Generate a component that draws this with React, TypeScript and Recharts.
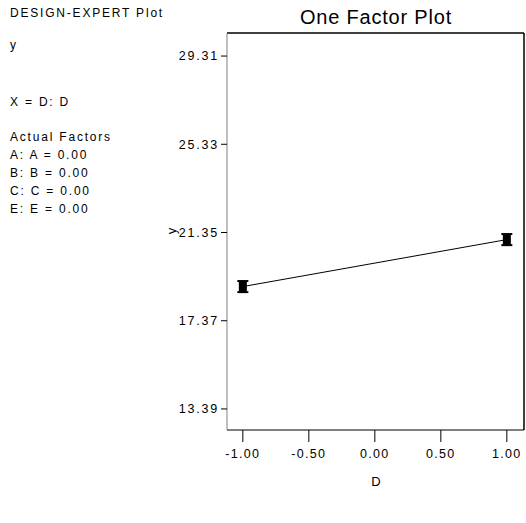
import { LineChart, Line, XAxis, YAxis, ErrorBar, ReferenceLine } from "recharts"

// values
const xLevels = [-1, 1]
const yMeans = [18.91, 21.03]
const yErrors = [0.25, 0.25]
const xTicks = [-1, -0.5, 0, 0.5, 1]
const yTicks = [13.39, 17.37, 21.35, 25.33, 29.31]
const xDomain = [-1.12, 1.13]
const yDomain = [12.44, 30.35]
const infoLines = [
  { text: "DESIGN-EXPERT Plot", y: 17 },
  { text: "y", y: 49 },
  { text: "X = D: D", y: 106 },
  { text: "Actual Factors", y: 141 },
  { text: "A: A = 0.00", y: 159 },
  { text: "B: B = 0.00", y: 177 },
  { text: "C: C = 0.00", y: 195 },
  { text: "E: E = 0.00", y: 213 },
]

const data = xLevels.map((x, i) => ({ x, y: yMeans[i], err: yErrors[i] }))

const font = "'Liberation Sans', Arial, sans-serif"

const PointBox = (props: any) => {
  const { cx, cy } = props
  if (cx == null || cy == null) return null
  return <rect x={cx - 4} y={cy - 5} width={8} height={10} fill="#000" />
}

export default function App() {
  return (
    <div style={{ position: "absolute", left: 0, top: 0, width: 526, height: 523, background: "#fff", fontFamily: font }}>
      <svg width={526} height={523} style={{ position: "absolute", left: 0, top: 0 }}>
        {infoLines.map((l) => (
          <text key={l.text} x={10} y={l.y} fontSize={12} fill="#000" fontFamily={font} letterSpacing={1.8}>
            {l.text}
          </text>
        ))}
        <text x={376} y={24} fontSize={20} textAnchor="middle" fill="#000" fontFamily={font} letterSpacing={0.8}>
          One Factor Plot
        </text>
        <text x={376} y={486} fontSize={13} textAnchor="middle" fill="#000" fontFamily={font}>
          D
        </text>
        <text x={173} y={231} fontSize={13} textAnchor="middle" fill="#000" fontFamily={font} transform="rotate(-90 173 231)" dominantBaseline="middle">
          y
        </text>
      </svg>
      <div style={{ position: "absolute", left: 0, top: 0 }}>
        <LineChart width={526} height={523} data={data} margin={{ top: 33, right: 2, bottom: 63, left: 167 }}>
          <XAxis
            dataKey="x"
            type="number"
            domain={xDomain}
            ticks={xTicks}
            tickFormatter={(v: number) => v.toFixed(2)}
            tickSize={12}
            tickMargin={7}
            height={30}
            stroke="#000"
            tick={{ fill: "#000", fontSize: 12.5, fontFamily: font, letterSpacing: 1.3 }}
            allowDataOverflow
          />
          <YAxis
            type="number"
            domain={yDomain}
            ticks={yTicks}
            tickFormatter={(v: number) => v.toFixed(2)}
            tickSize={6}
            tickMargin={2}
            width={60}
            stroke="#808080"
            tickLine={{ stroke: "#000" }}
            tick={{ fill: "#000", fontSize: 12.5, fontFamily: font, letterSpacing: 1.8 }}
            allowDataOverflow
          />
          <ReferenceLine y={yDomain[1]} stroke="#000" strokeWidth={1.5} />
          <ReferenceLine x={xDomain[1]} stroke="#000" strokeWidth={1.5} />
          <Line
            dataKey="y"
            type="linear"
            stroke="#000"
            strokeWidth={1}
            dot={<PointBox />}
            activeDot={false}
            isAnimationActive={false}
          >
            <ErrorBar dataKey="err" width={5.5} stroke="#000" strokeWidth={2} direction="y" isAnimationActive={false} />
          </Line>
        </LineChart>
      </div>
    </div>
  )
}
